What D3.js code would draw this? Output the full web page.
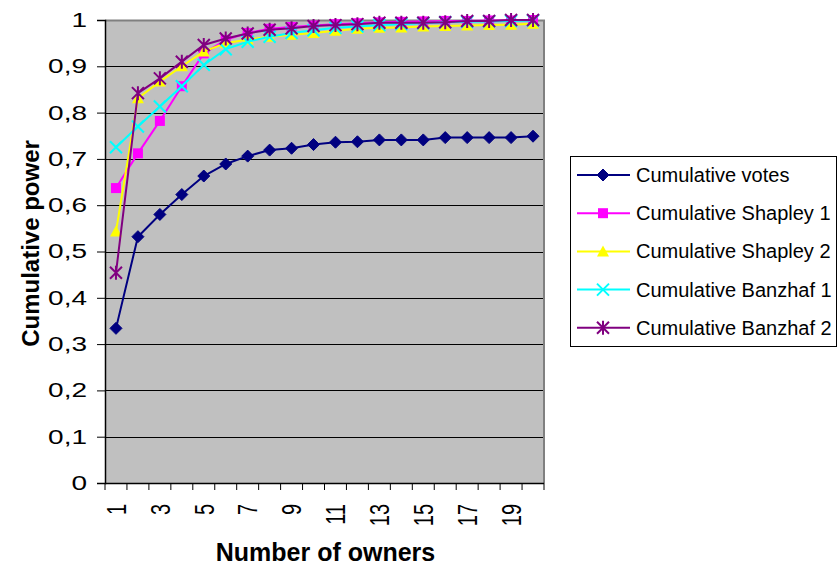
<!DOCTYPE html>
<html>
<head>
<meta charset="utf-8">
<script src="https://cdn.jsdelivr.net/npm/d3@7/dist/d3.min.js"></script>
<style>
  html, body { margin: 0; padding: 0; background: #fff; }
  svg { display: block; }
  text { font-family: Arial, "Liberation Sans", sans-serif; fill: #000; }
</style>
</head>
<body>
<svg id="chart" width="838" height="571"></svg>
<script>
const categories = d3.range(1, 21);
const tickLabels = ["1","3","5","7","9","11","13","15","17","19"];
const yTicks = [0,0.1,0.2,0.3,0.4,0.5,0.6,0.7,0.8,0.9,1];

const cumulativeVotes = [0.334,0.532,0.580,0.623,0.663,0.689,0.706,0.719,0.723,0.731,0.736,0.737,0.741,0.741,0.741,0.746,0.746,0.746,0.746,0.749];
const cumulativeShapley1 = [0.637,0.712,0.782,0.857,0.928,0.957,0.972,0.981,0.985,0.988,0.991,0.993,0.995,0.996,0.997,0.998,0.998,0.999,0.999,1.000];
const cumulativeShapley2 = [0.543,0.831,0.867,0.900,0.932,0.950,0.958,0.964,0.968,0.972,0.977,0.981,0.983,0.984,0.986,0.987,0.988,0.989,0.990,0.992];
const cumulativeBanzhaf1 = [0.725,0.770,0.813,0.857,0.903,0.937,0.953,0.964,0.972,0.978,0.983,0.986,0.989,0.991,0.993,0.995,0.996,0.997,0.998,0.999];
const cumulativeBanzhaf2 = [0.454,0.842,0.874,0.910,0.946,0.960,0.971,0.979,0.982,0.987,0.989,0.991,0.994,0.994,0.994,0.995,0.998,0.998,1.000,1.000];

const seriesNames = ["Cumulative votes","Cumulative Shapley 1","Cumulative Shapley 2","Cumulative Banzhaf 1","Cumulative Banzhaf 2"];
const seriesValues = [cumulativeVotes, cumulativeShapley1, cumulativeShapley2, cumulativeBanzhaf1, cumulativeBanzhaf2];
const seriesColors = ["#000080","#FF00FF","#FFFF00","#00FFFF","#800080"];
const seriesMarkers = ["diamond","square","triangle","x","star"];

const svg = d3.select("#chart");
const plot = {left: 105, right: 544, top: 20, bottom: 483};

const x = d3.scaleBand().domain(categories).range([plot.left, plot.right]).padding(0);
const y = d3.scaleLinear().domain([0, 1]).range([plot.bottom, plot.top]);

// plot background
svg.append("rect")
  .attr("x", plot.left).attr("y", plot.top)
  .attr("width", plot.right - plot.left).attr("height", plot.bottom - plot.top)
  .attr("fill", "#C0C0C0");

// gridlines
svg.append("g").selectAll("line").data(yTicks.filter(d => d > 0 && d < 1)).join("line")
  .attr("x1", plot.left).attr("x2", plot.right)
  .attr("y1", d => Math.round(y(d)) + 0.5).attr("y2", d => Math.round(y(d)) + 0.5)
  .attr("stroke", "#000").attr("stroke-width", 1);

// plot border top/right (gray)
svg.append("path")
  .attr("d", `M${plot.left},${plot.top + 0.5}H${plot.right}V${plot.bottom}`)
  .attr("fill", "none").attr("stroke", "#808080").attr("stroke-width", 2);

// Y axis
const yAxis = d3.axisLeft(y).tickValues(yTicks).tickSize(8).tickPadding(10)
  .tickFormat(d => d === 0 ? "0" : d === 1 ? "1" : d3.format(".1f")(d).replace(".", ","));
const gy = svg.append("g").attr("transform", `translate(${plot.left},0)`).call(yAxis);
gy.select(".domain").attr("stroke", "#000").attr("stroke-width", 1.5);
gy.selectAll(".tick line").attr("stroke", "#000");
gy.selectAll(".tick text")
  .attr("x", 0)
  .attr("transform", "translate(-18,0) scale(1.4,1)")
  .attr("font-size", 20)
  .attr("font-family", "Arial, 'Liberation Sans', sans-serif")
  .attr("fill", "#000");

// X axis: ticks at category boundaries
const gx = svg.append("g");
const boundaries = categories.map(c => x(c)).concat([x(categories[categories.length - 1]) + x.bandwidth()]);
gx.append("line")
  .attr("x1", plot.left).attr("x2", plot.right)
  .attr("y1", plot.bottom + 0.5).attr("y2", plot.bottom + 0.5)
  .attr("stroke", "#000").attr("stroke-width", 1.5);
gx.selectAll("line.tk").data(boundaries).join("line").attr("class", "tk")
  .attr("x1", d => d).attr("x2", d => d)
  .attr("y1", plot.bottom).attr("y2", plot.bottom + 7)
  .attr("stroke", "#000");
gx.selectAll("text").data(tickLabels).join("text")
  .attr("transform", d => `translate(${x(+d) + x.bandwidth() / 2},${plot.bottom + 21}) scale(1.4,1) rotate(-90)`)
  .attr("text-anchor", "end")
  .attr("dy", "0.35em")
  .attr("font-size", 20)
  .text(d => d);

// Axis titles
svg.append("text")
  .attr("transform", `translate(39,${(plot.top + plot.bottom) / 2 - 8}) rotate(-90)`)
  .attr("text-anchor", "middle")
  .attr("font-size", 24).attr("font-weight", "bold")
  .text("Cumulative power");
svg.append("text")
  .attr("x", (plot.left + plot.right) / 2 + 1).attr("y", 561)
  .attr("text-anchor", "middle")
  .attr("font-size", 25).attr("font-weight", "bold")
  .text("Number of owners");

// markers
function drawMarker(g, type, color) {
  if (type === "diamond") {
    g.append("path").attr("d", "M0,-6L6,0L0,6L-6,0Z").attr("fill", color).attr("stroke", color);
  } else if (type === "square") {
    g.append("rect").attr("x", -5).attr("y", -5).attr("width", 10).attr("height", 10).attr("fill", color);
  } else if (type === "triangle") {
    g.append("path").attr("d", "M0,-6L6,5L-6,5Z").attr("fill", color);
  } else if (type === "x") {
    g.append("path").attr("d", "M-6,-6L6,6M-6,6L6,-6").attr("stroke", color).attr("stroke-width", 2).attr("fill", "none");
  } else if (type === "star") {
    g.append("path").attr("d", "M-6,-6L6,6M-6,6L6,-6M0,-7L0,7").attr("stroke", color).attr("stroke-width", 2).attr("fill", "none");
  }
}

const line = d3.line().x((d, i) => x(categories[i]) + x.bandwidth() / 2).y(d => y(d));

seriesValues.forEach((vals, si) => {
  const g = svg.append("g");
  g.append("path").datum(vals).attr("d", line)
    .attr("fill", "none").attr("stroke", seriesColors[si]).attr("stroke-width", 2);
  vals.forEach((v, i) => {
    const mg = g.append("g").attr("transform", `translate(${x(categories[i]) + x.bandwidth() / 2},${y(v)})`);
    drawMarker(mg, seriesMarkers[si], seriesColors[si]);
  });
});

// Legend
const legend = svg.append("g");
legend.append("rect").attr("x", 570.5).attr("y", 156.5).attr("width", 266).attr("height", 190)
  .attr("fill", "#fff").attr("stroke", "#000").attr("stroke-width", 1);
seriesNames.forEach((name, i) => {
  const ly = 175 + i * 38.2;
  const lg = legend.append("g");
  lg.append("line").attr("x1", 577).attr("x2", 630).attr("y1", ly).attr("y2", ly)
    .attr("stroke", seriesColors[i]).attr("stroke-width", 2);
  const mg = lg.append("g").attr("transform", `translate(603,${ly})`);
  drawMarker(mg, seriesMarkers[i], seriesColors[i]);
  lg.append("text").attr("x", 636).attr("y", ly + 7).attr("font-size", 20).text(name);
});
</script>
</body>
</html>
